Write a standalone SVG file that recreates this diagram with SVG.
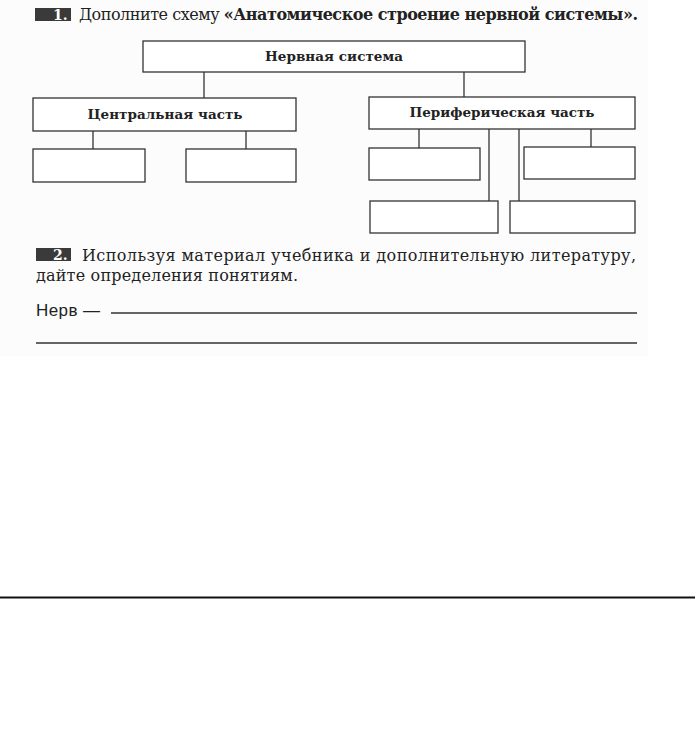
<svg xmlns="http://www.w3.org/2000/svg" width="695" height="749" viewBox="0 0 695 749">
<style>
.box{fill:#fff;stroke:#333;stroke-width:1.3}
.ln{stroke:#333;stroke-width:1.3;fill:none}
.lbl{font-family:"DejaVu Serif","Liberation Serif",serif;font-weight:bold;font-size:13.5px;fill:#222;text-anchor:middle}
.txt{font-family:"DejaVu Serif","Liberation Serif",serif;font-size:16px;fill:#222}
.badge{fill:#3a3a3a}
.bt{font-family:"DejaVu Serif",serif;font-weight:bold;font-size:14px;fill:#fff}
</style>
<rect x="0" y="0" width="648" height="356" fill="#fcfcfc"/>
<rect class="badge" x="35" y="8" width="36" height="13"/>
<text class="bt" x="53" y="20">1.</text>
<text class="txt" x="79" y="20" textLength="559">Дополните схему <tspan font-weight="bold">«Анатомическое строение нервной системы».</tspan></text>
<g id="connectors">
<line class="ln" x1="204" y1="72" x2="204" y2="98"/>
<line class="ln" x1="464" y1="72" x2="464" y2="97"/>
<line class="ln" x1="93" y1="131" x2="93" y2="149"/>
<line class="ln" x1="246" y1="131" x2="246" y2="149"/>
<line class="ln" x1="419" y1="129" x2="419" y2="148"/>
<line class="ln" x1="489" y1="129" x2="489" y2="201"/>
<line class="ln" x1="519" y1="129" x2="519" y2="201"/>
<line class="ln" x1="591" y1="129" x2="591" y2="147"/>
</g>
<g id="n-root"><rect class="box" x="143" y="41" width="382" height="31"/><text class="lbl" x="334" y="61" textLength="138">Нервная система</text></g>
<g id="n-central"><rect class="box" x="33" y="98" width="263" height="33"/><text class="lbl" x="165" y="119" textLength="155">Центральная часть</text></g>
<g id="n-periph"><rect class="box" x="369" y="97" width="266" height="32"/><text class="lbl" x="502" y="117" textLength="185">Периферическая часть</text></g>
<g id="n-c1"><rect class="box" x="33" y="149" width="112" height="33"/></g>
<g id="n-c2"><rect class="box" x="186" y="149" width="110" height="33"/></g>
<g id="n-p1"><rect class="box" x="369" y="148" width="111" height="32"/></g>
<g id="n-p2"><rect class="box" x="524" y="147" width="111" height="32"/></g>
<g id="n-p3"><rect class="box" x="370" y="201" width="128" height="32"/></g>
<g id="n-p4"><rect class="box" x="510" y="201" width="125" height="32"/></g>
<rect class="badge" x="36" y="248" width="35" height="13"/>
<text class="bt" x="53" y="260">2.</text>
<text class="txt" x="82" y="261" textLength="554">Используя материал учебника и дополнительную литературу,</text>
<text class="txt" x="36" y="281" textLength="262">дайте определения понятиям.</text>
<text x="36" y="316" font-family="'Liberation Sans',Arial,sans-serif" font-size="17" fill="#222" textLength="64">Нерв —</text>
<line class="ln" x1="111" y1="313" x2="637" y2="313"/>
<line class="ln" x1="36" y1="343" x2="637" y2="343"/>
<line x1="0" y1="597.5" x2="695" y2="597.5" stroke="#111" stroke-width="2"/>
</svg>
